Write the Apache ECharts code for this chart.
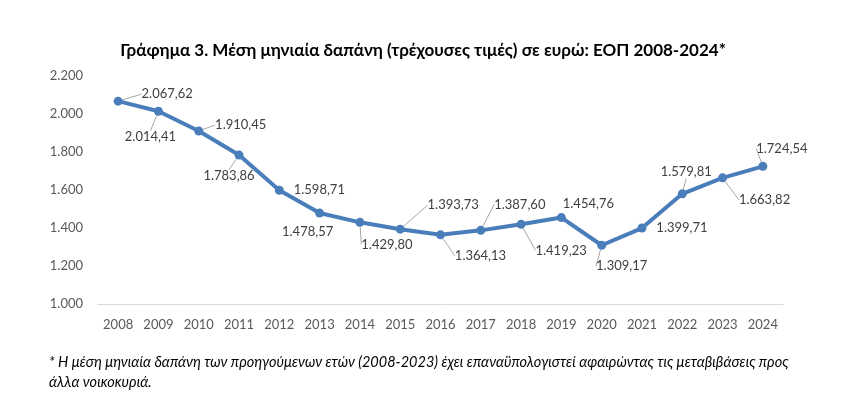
<!DOCTYPE html>
<html><head><meta charset="utf-8">
<script src="https://cdn.jsdelivr.net/npm/echarts@6/dist/echarts.min.js"></script>
<style>html,body{margin:0;padding:0;background:#fff}#c{width:846px;height:395px}</style>
</head><body><div id="c"></div>
<script>
var years = ['2008','2009','2010','2011','2012','2013','2014','2015','2016','2017','2018','2019','2020','2021','2022','2023','2024'];
var spending = [2067.62, 2014.41, 1910.45, 1783.86, 1598.71, 1478.57, 1429.80, 1393.73, 1364.13, 1387.60, 1419.23, 1454.76, 1309.17, 1399.71, 1579.81, 1663.82, 1724.54];
var yTicks = [1000, 1200, 1400, 1600, 1800, 2000, 2200];
var titleText = 'Γράφημα 3. Μέση μηνιαία δαπάνη (τρέχουσες τιμές) σε ευρώ: ΕΟΠ 2008-2024*';
var noteText = '* Η μέση μηνιαία δαπάνη των προηγούμενων ετών (2008-2023) έχει επαναϋπολογιστεί αφαιρώντας τις μεταβιβάσεις προς\nάλλα νοικοκυριά.';

// label offsets (style only)
var offs = [[49,-7],[-8,26],[42,-6],[-10,21],[40,0],[-12,19],[27,22],[53,-24],[40,21],[39,-26],[40,26],[27,-14],[20,21],[40,0],[4,-22],[42,22],[19,-18]];
var leader = [true,true,true,true,false,false,true,true,true,true,true,false,true,false,true,true,true];

function fmtNum(v, dec){
  var s = v.toFixed(dec);
  var parts = s.split('.');
  var ip = parts[0].replace(/\B(?=(\d{3})+(?!\d))/g, '.');
  return dec ? ip + ',' + parts[1] : ip;
}
var FONT = 'Lato';
var chart = echarts.init(document.getElementById('c'), null, {renderer:'canvas'});
chart.setOption({
  animation:false,
  title:[{text:titleText, left:'center', top:37, textStyle:{fontFamily:FONT, fontWeight:'bold', fontSize:17, color:'#000'}},
         {text:noteText, left:44, top:347, textStyle:{fontFamily:FONT, fontStyle:'italic', fontWeight:'normal', fontSize:14.5, color:'#000', lineHeight:20}}],
  grid:{left:98, right:63, top:76, bottom:91, containLabel:false},
  xAxis:{type:'category', data:years, boundaryGap:true,
    axisLine:{lineStyle:{color:'#d9d9d9', width:1}}, axisTick:{show:false},
    axisLabel:{color:'#595959', fontFamily:FONT, fontSize:13, margin:14}},
  yAxis:{type:'value', min:yTicks[0], max:yTicks[yTicks.length-1], interval:200,
    axisLine:{show:false}, axisTick:{show:false}, splitLine:{show:false},
    axisLabel:{color:'#595959', fontFamily:FONT, fontSize:13, margin:15, formatter:function(v){return fmtNum(v,0);}}},
  series:[{type:'line', data:spending.map(function(v,i){return {value:v, labelLine:{show:leader[i]}};}),
    symbol:'circle', symbolSize:9, lineStyle:{color:'#4a7ebb', width:4}, itemStyle:{color:'#4a7ebb'},
    label:{show:true, position:'inside', color:'#404040', fontFamily:FONT, fontSize:13, formatter:function(p){return fmtNum(p.value,2);}},
    labelLine:{show:true, lineStyle:{color:'#a6a6a6', width:1}},
    labelLayout:function(p){var o=offs[p.dataIndex]; return {dx:o[0], dy:o[1]};}
  }]
});
</script></body></html>
